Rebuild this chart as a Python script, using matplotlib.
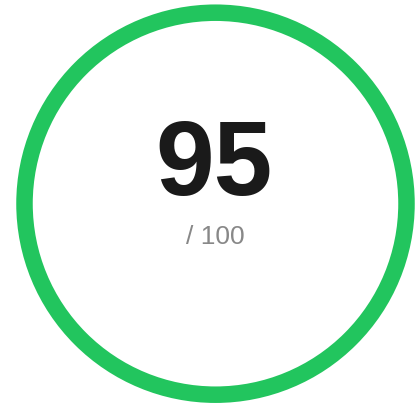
import matplotlib.pyplot as plt
from matplotlib.patches import Circle

# gauge data
score = 95
max_score = 100
score_label = str(score)
max_label = f"/ {max_score}"

W, H = 419, 407
fig = plt.figure(figsize=(W / 100, H / 100), dpi=100)
ax = fig.add_axes([0, 0, 1, 1])
ax.set_xlim(0, W)
ax.set_ylim(H, 0)
ax.set_aspect("equal")
ax.axis("off")

# ring (pixel units, linewidth in points)
cx, cy, r = 215.5, 203.7, 191
ring = Circle((cx, cy), r, fill=False, edgecolor="#22c55e", linewidth=16.5 * 72 / 100)
ax.add_patch(ring)

# score text
ax.text(cx - 2, 156.5, score_label, ha="center", va="center_baseline",
        fontsize=76, fontweight="bold", color="#1a1a1a", family="Liberation Sans")
ax.text(cx, 234, max_label, ha="center", va="center_baseline",
        fontsize=19, color="#888888", family="Liberation Sans")

fig.savefig("out.png", dpi=100)
